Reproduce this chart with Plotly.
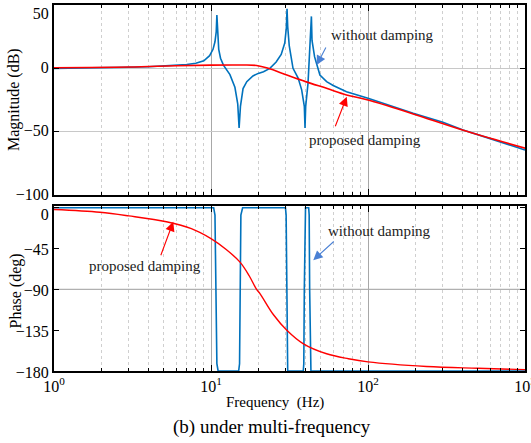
import math
import plotly.graph_objects as go

# ---------------- data ----------------
# Magnitude, without damping (blue)
f_mag_blue = [1, 2, 3, 4, 5, 6, 7, 8, 9, 9.8, 10.3, 10.6, 10.8, 10.9, 11.0, 11.2, 11.5, 12, 13.2,
              14.2, 14.8, 15.1, 15.4, 16, 16.9, 18.5, 20, 21.6, 23.7, 26, 28, 29.5, 30.2, 30.5,
              30.8, 31.5, 33.3, 35.9, 37.8, 39.3, 39.7, 40.1, 41.5, 42.5, 43.3, 43.6, 44, 45.7,
              49.4, 54.5, 60, 73, 100, 150, 194, 300, 403, 600, 1000]
mag_blue = [0, 0.3, 0.8, 1.2, 1.8, 2.3, 3.0, 4.0, 6.0, 10, 15, 21, 29, 42, 30, 15, 8, 2.5, -5,
            -15, -28, -47, -30, -16, -10.5, -6, -4, -2.7, 0, 5, 11, 20, 32, 47,
            33, 18, 0, -7.7, -17, -30, -47, -30, -11.7, 14, 24, 41, 22, 9,
            -5.3, -10.5, -13.5, -18.5, -23.7, -31, -35.4, -42.5, -48.7, -55.5, -64.5]

# Magnitude, proposed damping (red)
f_mag_red = [1, 3, 6, 10, 15, 19.5, 23.2, 30.4, 40, 55, 73, 100, 194, 400, 1000]
mag_red = [0.5, 1.0, 2.0, 2.5, 2.6, 2.3, 0, -5.3, -10.5, -16, -21, -25, -36, -48.7, -63]

# Phase, without damping (blue)
f_ph_blue = [1, 10.4, 10.6, 10.75, 10.9, 11.1, 15.0, 15.2, 15.35, 15.5, 15.9,
             29.8, 30.1, 30.3, 30.5, 30.8, 38.7, 39.0, 39.3, 39.6, 40.0,
             41.9, 42.2, 42.5, 42.8, 43.3, 1000]
ph_blue = [0, 0, -8, -90, -172, -180, -180, -172, -90, -8, 0,
           0, -8, -90, -172, -180, -180, -172, -90, -8, 0,
           0, -8, -90, -172, -180, -180]

# Phase, proposed damping (red)
f_ph_red = [1, 1.96, 3, 5.2, 7.5, 10, 12.5, 15.3, 17.5, 19.5, 20.5, 25, 30.4, 38.8, 54.5,
            75, 100, 236, 500, 1000]
ph_red = [-2, -5, -9, -15.5, -23, -34, -46, -60, -75, -90, -94.6, -118, -135, -150, -161,
          -166.5, -170, -175, -177, -178.5]

x_tickvals = [1, 10, 100, 1000]
x_ticktext = ["10<sup>0</sup>", "10<sup>1</sup>", "10<sup>2</sup>", "10<sup>3</sup>"]
mag_ticks_top = [50]
mag_ticks = [0, -50, -100]
ph_ticks_top = [0]
ph_ticks = [-45, -90, -135, -180]

# ---------------- styling ----------------
BLUE = "#0072BD"
RED = "#FF0000"
ARROW_BLUE = "#4A80D4"
FONT = "Liberation Serif"
minor_vals = [m * 10 ** d for d in range(3) for m in range(2, 10)]

fig = go.Figure()
fig.add_trace(go.Scatter(x=f_mag_blue, y=mag_blue, mode="lines", line=dict(color=BLUE, width=1.6),
                         xaxis="x", yaxis="y", showlegend=False))
fig.add_trace(go.Scatter(x=f_mag_red, y=mag_red, mode="lines", line=dict(color=RED, width=1.6, shape="spline"),
                         xaxis="x", yaxis="y", showlegend=False))
fig.add_trace(go.Scatter(x=f_ph_blue, y=ph_blue, mode="lines", line=dict(color=BLUE, width=1.6),
                         xaxis="x2", yaxis="y2", showlegend=False))
fig.add_trace(go.Scatter(x=f_ph_red, y=ph_red, mode="lines", line=dict(color=RED, width=1.4, shape="spline"),
                         xaxis="x2", yaxis="y2", showlegend=False))
# empty helper traces so the overlay axes (carrying the top tick labels) are drawn
fig.add_trace(go.Scatter(x=[None], y=[None], xaxis="x", yaxis="y3", showlegend=False, hoverinfo="skip"))
fig.add_trace(go.Scatter(x=[None], y=[None], xaxis="x2", yaxis="y4", showlegend=False, hoverinfo="skip"))

common_x = dict(
    type="log", range=[0, 3], tickvals=x_tickvals, ticks="inside", ticklen=6, tickwidth=1.2,
    tickcolor="black", showline=True, linecolor="black", linewidth=2, mirror="ticks",
    showgrid=True, gridcolor="#a8a8a8", gridwidth=1, zeroline=False, automargin=False,
    minor=dict(tickvals=minor_vals, ticks="inside", ticklen=3, tickcolor="black",
               showgrid=True, griddash="dot", gridcolor="#cfcfcf", gridwidth=1),
)
common_y = dict(
    ticks="inside", ticklen=5, tickwidth=1.2, tickcolor="black", showline=True, linecolor="black",
    linewidth=2, mirror="ticks", zeroline=False, automargin=False, ticklabeloverflow="allow",
    tickfont=dict(family=FONT, size=16, color="black"),
)

MAG_RANGE = [-100, 50]
PH_RANGE = [-180, 1.9]

fig.update_layout(
    width=531, height=443,
    margin=dict(l=54, r=6, t=5, b=72, autoexpand=False),
    paper_bgcolor="white", plot_bgcolor="white",
    font=dict(family=FONT, size=15, color="black"),
    xaxis=dict(**common_x, domain=[0, 1], anchor="y", showticklabels=False),
    yaxis=dict(**common_y, domain=[0.4809, 1], anchor="x", range=MAG_RANGE, tickvals=mag_ticks,
               showgrid=True, gridcolor="#c8c8c8", ticklabelshift=-1),
    yaxis3=dict(**common_y, overlaying="y", anchor="x", side="left", range=MAG_RANGE,
                tickvals=mag_ticks_top, showgrid=False, ticklabelshift=8),
    xaxis2=dict(**common_x, domain=[0, 1], anchor="y2", ticktext=x_ticktext,
                ticklabeloverflow="allow",
                tickfont=dict(family=FONT, size=16, color="black")),
    yaxis2=dict(**common_y, domain=[0, 0.4508], anchor="x2", range=PH_RANGE, tickvals=ph_ticks,
                showgrid=False, ticklabelshift=1),
    yaxis4=dict(**common_y, overlaying="y2", anchor="x2", side="left", range=PH_RANGE,
                tickvals=ph_ticks_top, showgrid=False, ticklabelshift=7),
)

# horizontal grid line at -90 deg
fig.add_shape(type="line", xref="x2 domain", x0=0, x1=1, yref="y2", y0=-90, y1=-90,
              line=dict(color="#b0b0b0", width=1.2), layer="below")

# axis titles & caption
fig.add_annotation(text="Magnitude (dB)", xref="paper", yref="paper", x=0, xshift=-40, y=0.7405,
                   textangle=-90, showarrow=False, font=dict(size=16), xanchor="center", yanchor="middle")
fig.add_annotation(text="Phase (deg)", xref="paper", yref="paper", x=0, xshift=-38, y=0.2254, yshift=-3,
                   textangle=-90, showarrow=False, font=dict(size=16), xanchor="center", yanchor="middle")
fig.add_annotation(text="Frequency  (Hz)", xref="paper", yref="paper", x=0.5, y=0, yshift=-31,
                   xshift=-15, showarrow=False, font=dict(size=15), xanchor="center", yanchor="middle")
fig.add_annotation(text="(b) under multi-frequency", xref="paper", yref="paper", x=0.5, y=0, yshift=-56,
                   xshift=-18, showarrow=False, font=dict(size=19), xanchor="center", yanchor="middle")

# curve labels with arrows
def arrow(xref, yref, f, v, ax, ay, color):
    fig.add_annotation(x=math.log10(f), y=v, xref=xref, yref=yref, text="", showarrow=True,
                       ax=ax, ay=ay, arrowcolor=color, arrowhead=2, arrowsize=1.7, arrowwidth=1.1)

def label(xref, yref, f, v, text):
    fig.add_annotation(x=math.log10(f), y=v, xref=xref, yref=yref, text=text, showarrow=False,
                       font=dict(size=15, color="#222222"), xanchor="center", yanchor="middle")

label("x", "y", 10 ** ((382.5 - 54) / 157), (68.3 - 35) / 1.266, "without damping")
arrow("x", "y", 47.1, 2.6, 10, -19, ARROW_BLUE)
label("x", "y", 10 ** ((364.7 - 54) / 157), (68.3 - 140) / 1.266, "proposed damping")
arrow("x", "y", 73.2, -22.4, -12, 31, RED)

label("x2", "y2", 10 ** ((145 - 54) / 157), -(266 - 207.7) / 0.9056, "proposed damping")
arrow("x2", "y2", 5.75, -15.5, -13, 35, RED)
label("x2", "y2", 10 ** ((379.7 - 54) / 157), -(230.8 - 207.7) / 0.9056, "without damping")
arrow("x2", "y2", 44.8, -57.8, 22, -20, ARROW_BLUE)

fig.write_html("out.html")
